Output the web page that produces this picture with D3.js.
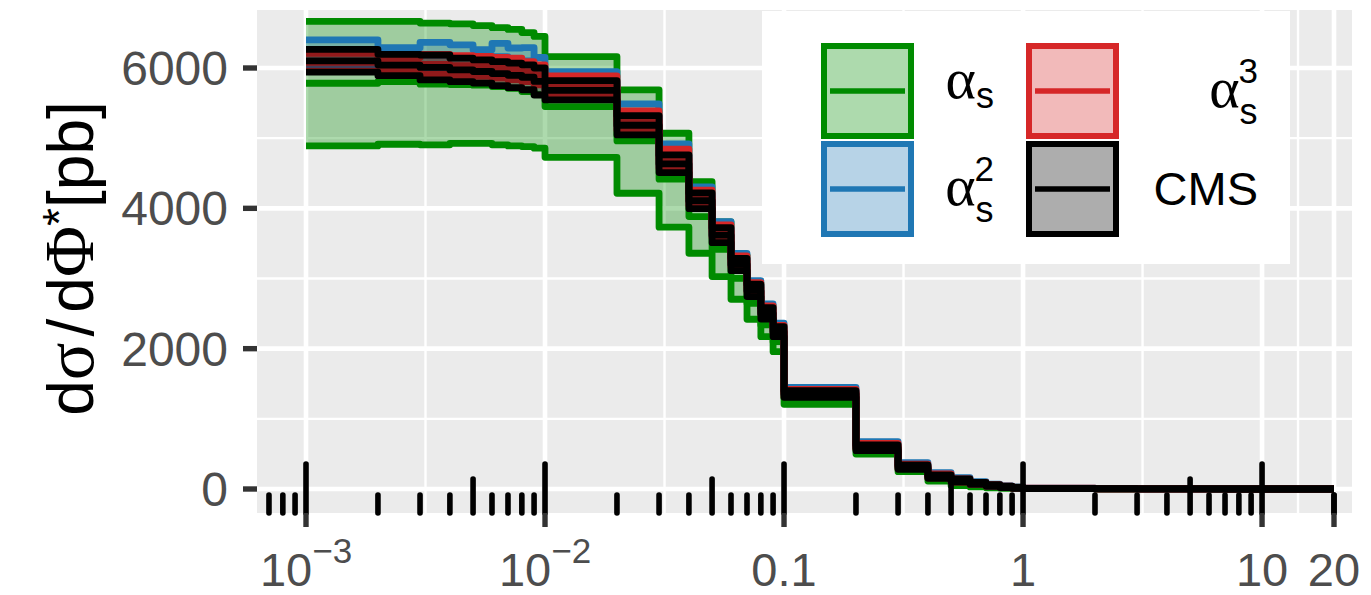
<!DOCTYPE html>
<html>
<head>
<meta charset="utf-8">
<script src="https://cdn.jsdelivr.net/npm/d3@7"></script>
<style>
  body { margin: 0; background: #fff; }
  svg { display: block; }
</style>
</head>
<body>
<svg width="1371" height="595"></svg>
<script>
var svg = d3.select('svg')

// bin edges in phi*
var edges = [0.001, 0.002, 0.003, 0.004, 0.005, 0.006, 0.007, 0.008, 0.009,
  0.01, 0.02, 0.03, 0.04, 0.05, 0.06, 0.07, 0.08, 0.09,
  0.1, 0.2, 0.3, 0.4, 0.5, 0.6, 0.7, 0.8, 0.9,
  1, 2, 3, 4, 5, 6, 7, 8, 9, 10, 20]

// O(alpha_s)
var as1Hi = [6665, 6665, 6640, 6630, 6605, 6575, 6550, 6505, 6450,
  6163, 5688, 5070, 4381, 3805, 3330, 2940, 2610, 2330,
  1390, 640, 335, 195, 130, 85, 55, 35, 20,
  10, 4, 2, 1.2, 0.8, 0.6, 0.4, 0.3, 0.2, 0.1]
var as1Mid = [5783, 5807, 5770, 5765, 5755, 5735, 5710, 5665, 5620,
  5450, 4961, 4415, 3882, 3416, 3003, 2647, 2338, 2100,
  1300, 570, 290, 155, 90, 57, 36, 22, 12,
  7, 3, 1.5, 0.9, 0.6, 0.4, 0.3, 0.2, 0.15, 0.05]
var as1Lo = [4890, 4913, 4905, 4925, 4925, 4905, 4890, 4880, 4857,
  4727, 4215, 3731, 3360, 3027, 2704, 2419, 2171, 1957,
  1207, 499, 247, 114, 50, 30, 18, 10, 5,
  5, 2, 1, 0.6, 0.4, 0.3, 0.2, 0.1, 0.1, 0.02]

// O(alpha_s^2)
var as2Hi = [6400, 6290, 6365, 6330, 6260, 6350, 6285, 6290, 6150,
  5949, 5488, 4918, 4305, 3811, 3359, 2970, 2637, 2362,
  1449, 674, 375, 233, 160, 105, 70, 45, 28,
  12, 5, 2.5, 1.5, 1, 0.7, 0.5, 0.4, 0.3, 0.1]
var as2Mid = [6222, 6160, 6185, 6162, 6118, 6160, 6112, 6100, 6002,
  5795, 5309, 4754, 4182, 3705, 3270, 2895, 2571, 2301,
  1395, 627, 337, 201, 132, 86, 56, 35, 21,
  10, 4, 2, 1.2, 0.8, 0.55, 0.4, 0.3, 0.22, 0.08]
var as2Lo = [6045, 6030, 6005, 5995, 5975, 5970, 5940, 5910, 5855,
  5640, 5130, 4590, 4060, 3600, 3180, 2820, 2505, 2240,
  1340, 580, 300, 170, 105, 68, 42, 25, 14,
  8, 3, 1.5, 0.9, 0.6, 0.4, 0.3, 0.2, 0.15, 0.05]

// O(alpha_s^3)
var as3Hi = [6210, 6150, 6195, 6175, 6165, 6150, 6140, 6090, 6045,
  5887, 5388, 4842, 4258, 3763, 3321, 2941, 2609, 2333,
  1420, 650, 355, 215, 145, 95, 62, 40, 24,
  11, 4.5, 2.2, 1.3, 0.9, 0.6, 0.45, 0.35, 0.25, 0.1]
var as3Mid = [6080, 6052, 6052, 6032, 6022, 6002, 5985, 5948, 5902,
  5745, 5253, 4707, 4149, 3675, 3245, 2875, 2552, 2280,
  1370, 607, 322, 187, 122, 80, 51, 32, 18,
  9, 3.6, 1.8, 1.05, 0.72, 0.5, 0.36, 0.28, 0.2, 0.08]
var as3Lo = [5950, 5955, 5910, 5890, 5880, 5855, 5830, 5805, 5760,
  5602, 5118, 4572, 4040, 3587, 3169, 2808, 2495, 2228,
  1320, 565, 290, 160, 100, 65, 40, 24, 12,
  7, 2.8, 1.4, 0.8, 0.55, 0.4, 0.28, 0.2, 0.15, 0.05]

// CMS data
var cmsHi = [6265, 6195, 6185, 6140, 6115, 6090, 6070, 6045, 6000,
  5820, 5322, 4761, 4220, 3725, 3288, 2918, 2585, 2314,
  1401, 627, 342, 200, 143, 95, 62, 40, 25,
  10, 4, 2, 1.2, 0.8, 0.6, 0.4, 0.3, 0.2, 0.1]
var cmsMid = [6102, 6042, 6008, 5972, 5950, 5920, 5895, 5868, 5808,
  5682, 5184, 4635, 4108, 3618, 3200, 2830, 2504, 2242,
  1354, 586, 312, 176, 122, 80, 50, 30, 18,
  8, 3.2, 1.6, 0.95, 0.65, 0.48, 0.32, 0.24, 0.16, 0.07]
var cmsLo = [5940, 5890, 5830, 5805, 5785, 5750, 5720, 5690, 5615,
  5545, 5046, 4509, 3995, 3511, 3112, 2742, 2423, 2171,
  1307, 546, 281, 152, 100, 65, 38, 20, 10,
  6, 2.5, 1.2, 0.7, 0.5, 0.35, 0.25, 0.18, 0.12, 0.04]

var yTicks = [0, 2000, 4000, 6000]
var yMinor = [1000, 3000, 5000]
var xTicks = [1e-3, 1e-2, 0.1, 1, 10, 20]
var xTickBase = ['10', '10', '0.1', '1', '10', '20']
var xTickExp = ['\u22123', '\u22122', '', '', '', '']

var series = [
  { name: 'as1', color: '#008B00', lo: as1Lo, mid: as1Mid, hi: as1Hi },
  { name: 'as2', color: '#1F77B4', lo: as2Lo, mid: as2Mid, hi: as2Hi },
  { name: 'as3', color: '#D62728', lo: as3Lo, mid: as3Mid, hi: as3Hi },
  { name: 'cms', color: '#000000', lo: cmsLo, mid: cmsMid, hi: cmsHi }
]

// panel box
var pL = 257, pR = 1352, pT = 10, pB = 513

var x = d3.scaleLog()
  .domain([1e-3, 20])
  .range([306, 1334])

var y = d3.scaleLinear()
  .domain([0, 6000])
  .range([489, 68])

var sans = 'Liberation Sans, Arial, Helvetica, sans-serif'
var serif = 'Liberation Serif, DejaVu Serif, serif'

svg.append('rect')
  .attr('x', pL).attr('y', pT)
  .attr('width', pR - pL).attr('height', pB - pT)
  .attr('fill', '#EBEBEB')

// grid
var xMinor = d3.pairs(xTicks).map((p) => Math.sqrt(p[0] * p[1]))
var grid = svg.append('g')

grid.selectAll('.ymin').data(yMinor).enter().append('line')
  .attr('x1', pL).attr('x2', pR)
  .attr('y1', (d) => y(d)).attr('y2', (d) => y(d))
  .attr('stroke', '#fff').attr('stroke-width', 2.4)

grid.selectAll('.xmin').data(xMinor).enter().append('line')
  .attr('y1', pT).attr('y2', pB)
  .attr('x1', (d) => x(d)).attr('x2', (d) => x(d))
  .attr('stroke', '#fff').attr('stroke-width', 2.4)

grid.selectAll('.ymaj').data(yTicks).enter().append('line')
  .attr('x1', pL).attr('x2', pR)
  .attr('y1', (d) => y(d)).attr('y2', (d) => y(d))
  .attr('stroke', '#fff').attr('stroke-width', 4.6)

grid.selectAll('.xmaj').data(xTicks).enter().append('line')
  .attr('y1', pT).attr('y2', pB)
  .attr('x1', (d) => x(d)).attr('x2', (d) => x(d))
  .attr('stroke', '#fff').attr('stroke-width', 4.6)

// steps
function stepPts (vals) {
  return edges.map((e, i) => ({ x: e, v: vals[Math.min(i, vals.length - 1)] }))
}

var area = d3.area()
  .x((d) => x(d.x))
  .y0((d) => y(d.lo))
  .y1((d) => y(d.hi))
  .curve(d3.curveStepAfter)

var line = d3.line()
  .x((d) => x(d.x))
  .y((d) => y(d.v))
  .curve(d3.curveStepAfter)

var dataGr = svg.append('g')

series.forEach((s) => {
  var band = edges.map((e, i) => {
    var k = Math.min(i, s.lo.length - 1)
    return { x: e, lo: s.lo[k], hi: s.hi[k] }
  })
  var g = dataGr.append('g')
  g.append('path')
    .attr('d', area(band))
    .attr('fill', s.color)
    .attr('fill-opacity', 0.32)
  ;[s.lo, s.hi, s.mid].forEach((vals) => {
    g.append('path')
      .attr('d', line(stepPts(vals)))
      .attr('fill', 'none')
      .attr('stroke', s.color)
      .attr('stroke-width', 6.8)
      .attr('stroke-linejoin', 'round')
  })
})

// log ticks along the bottom
var logTicks = []
d3.range(-4, 2).forEach((p) => {
  d3.range(1, 10).forEach((m) => {
    var v = m * Math.pow(10, p)
    if (v >= 7e-4 && v <= 20.001) logTicks.push({ v: v, m: m })
  })
})
logTicks.push({ v: 20, m: 2 })

var lt = svg.append('g')
lt.selectAll('line').data(logTicks).enter().append('line')
  .attr('x1', (d) => x(d.v)).attr('x2', (d) => x(d.v))
  .attr('y1', pB)
  .attr('y2', (d) => pB - (d.m === 1 ? 49 : d.m === 5 ? 34 : 18))
  .attr('stroke', '#000')
  .attr('stroke-width', 5.6)
  .attr('stroke-linecap', 'round')

// axis ticks
var axis = svg.append('g')
axis.selectAll('.yt').data(yTicks).enter().append('line')
  .attr('x1', pL - 14).attr('x2', pL)
  .attr('y1', (d) => y(d)).attr('y2', (d) => y(d))
  .attr('stroke', '#333').attr('stroke-width', 5.4)

axis.selectAll('.xt').data(xTicks).enter().append('line')
  .attr('y1', pB).attr('y2', pB + 14)
  .attr('x1', (d) => x(d)).attr('x2', (d) => x(d))
  .attr('stroke', '#333').attr('stroke-width', 5.4)

axis.selectAll('.yl').data(yTicks).enter().append('text')
  .attr('x', 228)
  .attr('y', (d) => y(d) + 17)
  .attr('text-anchor', 'end')
  .attr('font-family', sans)
  .attr('font-size', 48)
  .attr('fill', '#4D4D4D')
  .text((d) => d)

var xl = axis.selectAll('.xl').data(xTicks).enter().append('text')
  .attr('x', (d) => x(d))
  .attr('y', 586)
  .attr('text-anchor', 'middle')
  .attr('font-family', sans)
  .attr('font-size', 47)
  .attr('fill', '#4D4D4D')
xl.append('tspan').text((d, i) => xTickBase[i])
xl.append('tspan')
  .attr('font-size', 35)
  .attr('dy', -23)
  .text((d, i) => xTickExp[i])

// y title
var yt = svg.append('text')
  .attr('transform', 'translate(93,' + ((pT + pB) / 2 - 3) + ') rotate(-90)')
  .attr('text-anchor', 'middle')
  .attr('font-size', 64)
  .attr('fill', '#000')
yt.append('tspan').attr('font-family', sans).text('d')
yt.append('tspan').attr('font-family', serif).attr('font-size', 70).text('\u03C3')
yt.append('tspan').attr('font-family', sans).attr('dx', 6).text('/')
yt.append('tspan').attr('font-family', sans).attr('dx', 6).text('d')
yt.append('tspan').attr('font-family', serif).attr('font-size', 70).text('\u03A6')
yt.append('tspan').attr('font-family', sans).attr('font-size', 46).attr('dy', -18).text('*')
yt.append('tspan').attr('font-family', sans).attr('dy', 18).text('[pb]')

// legend
var legendLabels = [
  { sub: 's', sup: '' },
  { sub: 's', sup: '2' },
  { sub: 's', sup: '3' },
  { text: 'CMS' }
]
var keyX = [821, 821, 1026, 1026]
var keyY = [43, 141, 43, 141]
var labelEnd = [994, 994, 1258, 1258]

var leg = svg.append('g')
leg.append('rect')
  .attr('x', 762).attr('y', 11)
  .attr('width', 528).attr('height', 253)
  .attr('fill', '#fff')

series.forEach((s, i) => {
  var k = leg.append('g').attr('transform', 'translate(' + keyX[i] + ',' + keyY[i] + ')')
  k.append('rect')
    .attr('x', 3).attr('y', 3)
    .attr('width', 87).attr('height', 90)
    .attr('fill', s.color).attr('fill-opacity', 0.32)
    .attr('stroke', s.color).attr('stroke-width', 6)
  k.append('line')
    .attr('x1', 9).attr('x2', 84)
    .attr('y1', 48).attr('y2', 48)
    .attr('stroke', s.color).attr('stroke-width', 5.4)

  var lab = legendLabels[i]
  var t = leg.append('text')
    .attr('x', labelEnd[i])
    .attr('text-anchor', 'end')
    .attr('fill', '#000')
  if (lab.text) {
    t.attr('y', keyY[i] + 64)
      .attr('font-family', sans)
      .attr('font-size', 47)
      .text(lab.text)
  } else if (lab.sup) {
    t.attr('y', keyY[i] + 64)
    t.append('tspan').attr('font-family', serif).attr('font-size', 58).text('\u03B1')
    t.append('tspan').attr('font-family', sans).attr('font-size', 36).attr('dy', 17).text(lab.sub)
    t.append('tspan').attr('font-family', sans).attr('font-size', 35).attr('dx', -19).attr('dy', -41).text(lab.sup)
  } else {
    t.attr('y', keyY[i] + 55)
    t.append('tspan').attr('font-family', serif).attr('font-size', 58).text('\u03B1')
    t.append('tspan').attr('font-family', sans).attr('font-size', 36).attr('dy', 10).text(lab.sub)
  }
})
</script>
</body>
</html>
